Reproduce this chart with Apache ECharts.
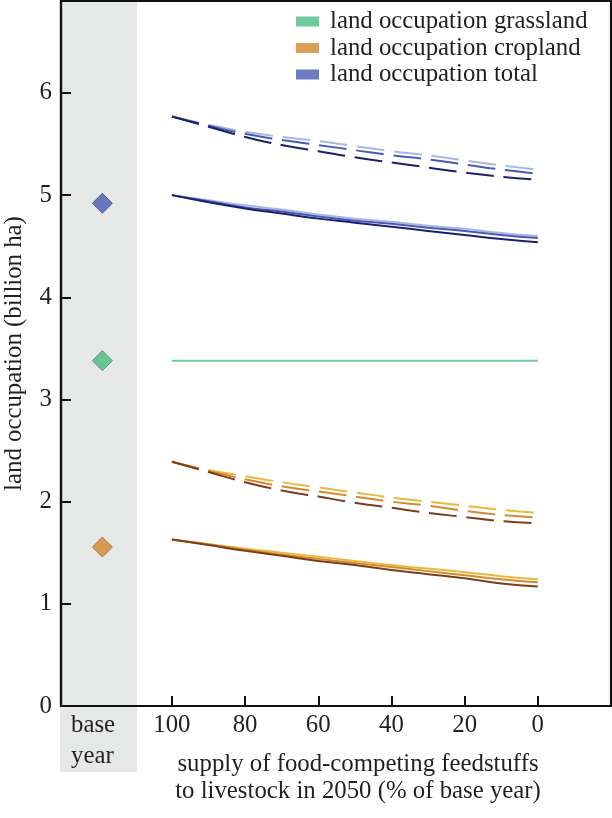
<!DOCTYPE html>
<html>
<head>
<meta charset="utf-8">
<script src="https://cdn.jsdelivr.net/npm/echarts@6/dist/echarts.min.js"></script>
<style>html,body{margin:0;padding:0;background:#fff}#c{width:612px;height:818px}</style>
</head>
<body>
<div id="c"></div>
<script>
// ---- data ----
const supply = [100, 90, 80, 70, 60, 50, 40, 30, 20, 10, 0];
const xTicks = [100, 80, 60, 40, 20, 0];
const yTicks = [0, 1, 2, 3, 4, 5, 6];

const totalDashLight = [5.77, 5.69, 5.62, 5.57, 5.53, 5.48, 5.43, 5.39, 5.34, 5.29, 5.25];
const totalDashMid   = [5.77, 5.68, 5.60, 5.54, 5.49, 5.44, 5.39, 5.35, 5.30, 5.25, 5.21];
const totalDashDark  = [5.77, 5.67, 5.57, 5.49, 5.43, 5.37, 5.32, 5.27, 5.22, 5.18, 5.15];

const totalSolidLight = [5.00, 4.95, 4.90, 4.86, 4.81, 4.77, 4.74, 4.70, 4.67, 4.63, 4.60];
const totalSolidMid   = [5.00, 4.94, 4.88, 4.84, 4.79, 4.75, 4.72, 4.68, 4.65, 4.61, 4.58];
const totalSolidDark  = [5.00, 4.93, 4.87, 4.82, 4.77, 4.73, 4.69, 4.65, 4.61, 4.57, 4.54];

const cropDashLight = [2.39, 2.31, 2.25, 2.19, 2.14, 2.09, 2.04, 2.00, 1.96, 1.92, 1.89];
const cropDashMid   = [2.39, 2.30, 2.22, 2.15, 2.10, 2.05, 2.00, 1.96, 1.91, 1.87, 1.845];
const cropDashDark  = [2.39, 2.29, 2.19, 2.11, 2.05, 1.99, 1.94, 1.89, 1.85, 1.81, 1.79];

const cropSolidLight = [1.63, 1.585, 1.54, 1.50, 1.46, 1.42, 1.38, 1.345, 1.31, 1.27, 1.24];
const cropSolidMid   = [1.63, 1.58, 1.53, 1.48, 1.44, 1.40, 1.36, 1.32, 1.28, 1.24, 1.21];
const cropSolidDark  = [1.63, 1.575, 1.52, 1.47, 1.42, 1.38, 1.33, 1.29, 1.25, 1.20, 1.17];

const grassland = [3.38, 3.38, 3.38, 3.38, 3.38, 3.38, 3.38, 3.38, 3.38, 3.38, 3.38];

const baseYearX = 119;
const baseGrass = 3.38;
const baseCrop = 1.555;
const baseTotal = 4.92;

const legendNames = ['land occupation grassland', 'land occupation cropland', 'land occupation total'];

// ---- styling ----
const FONT = "'Liberation Serif', 'Times New Roman', serif";
const FS = 24.8;
const TXT = '#231f20';
const C = {
  grass: '#48bd87', grassLine: '#6fcc9f', crop: '#d4862b', total: '#4a5bb5',
  tL: '#a9b7e4', tM: '#4a5ab2', tD: '#1c206c',
  cL: '#e8b93a', cM: '#d48a2e', cD: '#7a3e1b'
};
const DASH = [28, 9.5];

function pairs(vals) { return supply.map((s, i) => [s, vals[i]]); }
function line(name, vals, color, dashed, z) {
  return {
    name, type: 'line', data: pairs(vals), symbol: 'none', smooth: true, z: z,
    lineStyle: { color, width: 2, type: dashed ? DASH : 'solid', cap: 'butt' },
    animation: false, silent: true
  };
}

const chart = echarts.init(document.getElementById('c'), null, { renderer: 'canvas' });
chart.setOption({
  animation: false,
  textStyle: { fontFamily: FONT, color: TXT },
  grid: { left: 61, right: 1, top: 1, bottom: 112, show: true, borderColor: '#111', borderWidth: 2.2,
          backgroundColor: 'transparent', outerBoundsMode: 'none', containLabel: false },
  graphic: [
    { type: 'rect', z: -10, shape: { x: 60, y: 0, width: 77, height: 772 }, style: { fill: '#e6e7e7' } },
    { type: 'text', z: 10, left: 71, top: 710, style: { text: 'base\nyear', font: FS + 'px ' + FONT, fill: TXT, lineHeight: 31 } },
    { type: 'text', z: 10, x: 358, y: 778, style: { text: 'supply of food-competing feedstuffs\nto livestock in 2050 (% of base year)', font: FS + 'px ' + FONT, fill: TXT, align: 'center', verticalAlign: 'middle', lineHeight: 27 } }
  ],
  legend: {
    orient: 'vertical', left: 291, top: 4, itemWidth: 23, itemHeight: 10, itemGap: 1.5,
    selectedMode: false, icon: 'rect',
    textStyle: { fontFamily: FONT, fontSize: FS, color: TXT, lineHeight: 25, padding: [0, 0, 0, 6] },
    data: [
      { name: legendNames[0], icon: 'rect', itemStyle: { color: C.grass, borderWidth: 0 } },
      { name: legendNames[1], icon: 'rect', itemStyle: { color: C.crop, borderWidth: 0 } },
      { name: legendNames[2], icon: 'rect', itemStyle: { color: C.total, borderWidth: 0 } }
    ]
  },
  xAxis: {
    type: 'value', inverse: true, min: -20, max: 130.3, interval: 20,
    axisLine: { show: true, onZero: false, lineStyle: { color: '#111', width: 2.2 } },
    axisTick: { show: true, inside: true, length: 10, lineStyle: { color: '#111', width: 2 }, customValues: xTicks },
    axisLabel: { fontFamily: FONT, fontSize: FS, color: TXT, margin: 7, customValues: xTicks },
    splitLine: { show: false }
  },
  yAxis: {
    type: 'value', min: 0, max: 6.9, interval: 1,
    name: 'land occupation (billion ha)', nameLocation: 'middle', nameGap: 34,
    nameTextStyle: { fontFamily: FONT, fontSize: FS, color: TXT },
    axisLine: { show: true, onZero: false, lineStyle: { color: '#111', width: 2.2 } },
    axisTick: { show: true, inside: true, length: 10, lineStyle: { color: '#111', width: 2 }, customValues: yTicks },
    axisLabel: { fontFamily: FONT, fontSize: FS, color: TXT, margin: 9, customValues: yTicks },
    splitLine: { show: false }
  },
  series: [
    line('grass', grassland, C.grassLine, false, 3),
    line('tDL', totalDashLight, C.tL, true, 3),
    line('tDM', totalDashMid, C.tM, true, 4),
    line('tDD', totalDashDark, C.tD, true, 5),
    line('tSL', totalSolidLight, C.tL, false, 3),
    line('tSM', totalSolidMid, C.tM, false, 4),
    line('tSD', totalSolidDark, C.tD, false, 5),
    line('cDL', cropDashLight, C.cL, true, 3),
    line('cDM', cropDashMid, C.cM, true, 4),
    line('cDD', cropDashDark, C.cD, true, 5),
    line('cSL', cropSolidLight, C.cL, false, 3),
    line('cSM', cropSolidMid, C.cM, false, 4),
    line('cSD', cropSolidDark, C.cD, false, 5),
    { name: legendNames[0], type: 'scatter', symbol: 'diamond', symbolSize: 20, z: 6,
      data: [[baseYearX, baseGrass]], itemStyle: { color: C.grass, borderColor: '#2f7d5a', borderWidth: 0.8 } },
    { name: legendNames[1], type: 'scatter', symbol: 'diamond', symbolSize: 20, z: 6,
      data: [[baseYearX, baseCrop]], itemStyle: { color: C.crop, borderColor: '#8a5418', borderWidth: 0.8 } },
    { name: legendNames[2], type: 'scatter', symbol: 'diamond', symbolSize: 20, z: 6,
      data: [[baseYearX, baseTotal]], itemStyle: { color: C.total, borderColor: '#2a357f', borderWidth: 0.8 } }
  ]
});
</script>
</body>
</html>
